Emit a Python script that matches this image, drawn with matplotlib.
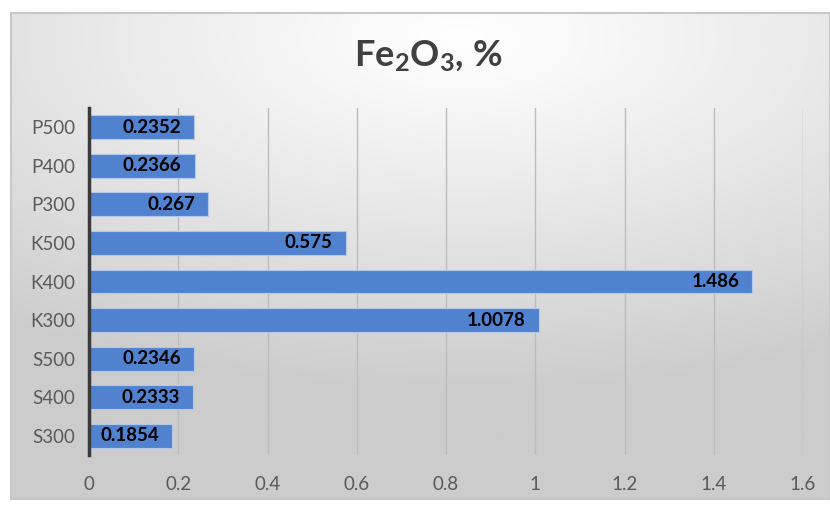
import numpy as np
import matplotlib
matplotlib.use("Agg")
import matplotlib.pyplot as plt
from matplotlib.patches import Rectangle

plt.rcParams['font.family'] = ['Lato', 'DejaVu Sans']
plt.rcParams['mathtext.fontset'] = 'custom'
plt.rcParams['mathtext.rm'] = 'Lato:bold'
plt.rcParams['mathtext.bf'] = 'Lato:bold'

categories = ["S300", "S400", "S500", "K300", "K400", "K500", "P300", "P400", "P500"]
values = [0.1854, 0.2333, 0.2346, 1.0078, 1.486, 0.575, 0.267, 0.2366, 0.2352]
labels = ["0.1854", "0.2333", "0.2346", "1.0078", "1.486", "0.575", "0.267", "0.2366", "0.2352"]
xticks = [0, 0.2, 0.4, 0.6, 0.8, 1.0, 1.2, 1.4, 1.6]
xticklabels = ["0", "0.2", "0.4", "0.6", "0.8", "1", "1.2", "1.4", "1.6"]

W, H = 830, 505
fig = plt.figure(figsize=(W / 100, H / 100), dpi=100)
fig.patch.set_facecolor("white")

# chart area with a soft radial gradient
bx0, by0, bx1, by1 = 11, 13, 830, 499
bg = fig.add_axes([bx0 / W, 1 - by1 / H, (bx1 - bx0) / W, (by1 - by0) / H])
gx, gy = np.meshgrid(np.linspace(0, 1, 400), np.linspace(0, 1, 240))
cx, cy = 0.55, 0.05
r = np.sqrt(((gx - cx) * 1.0) ** 2 + ((gy - cy) * 1.3) ** 2)
shade = 1.0 - 0.20 * np.clip(r / 0.95, 0, 1) ** 1.1
img = np.dstack([shade, shade, shade])
bg.imshow(img, aspect="auto", extent=[0, 1, 1, 0], interpolation="bilinear")
bg.set_xlim(0, 1)
bg.set_ylim(1, 0)
bg.axis("off")
bg.add_patch(Rectangle((0, 0), 1, 1, fill=False, edgecolor="#c8c8c8", lw=1.5,
                       transform=bg.transAxes, clip_on=False))

ax = fig.add_axes([89 / W, 1 - 455 / H, (803 - 89) / W, (455 - 108) / H])
ax.set_facecolor("none")
y = np.arange(len(categories))
bars = ax.barh(y, values, height=0.62, color="#5182d0", edgecolor="#b4c8ec", linewidth=0.8, zorder=3)

ax.set_xlim(0, 1.6)
ax.set_ylim(-0.5, len(categories) - 0.5)
ax.set_xticks(xticks)
ax.set_xticklabels(xticklabels)
ax.set_yticks(y)
ax.set_yticklabels(categories)
ax.tick_params(axis="both", length=0, labelsize=13.5, labelcolor="#595959")
ax.tick_params(axis="x", pad=15)
ax.tick_params(axis="y", pad=10)
ax.grid(axis="x", color="#bcbcbc", linewidth=1.0, zorder=0)
for s in ["top", "right", "bottom"]:
    ax.spines[s].set_visible(False)
ax.spines["left"].set_color("#3a3a3a")
ax.spines["left"].set_linewidth(2.5)
ax.spines["left"].set_zorder(4)

# value labels inside the bar ends
fig.canvas.draw()
renderer = fig.canvas.get_renderer()
pad_px = 13
for yi, v, lab in zip(y, values, labels):
    t = ax.text(0, yi, lab, ha="right", va="center", fontsize=13.5, fontweight="bold",
                color="black", zorder=5)
    tw = t.get_window_extent(renderer).width
    x0_px = ax.transData.transform((0, yi))[0]
    x1_px = ax.transData.transform((v, yi))[0]
    bw = x1_px - x0_px
    if bw >= tw + 2 * pad_px:
        xr = x1_px - pad_px
    else:
        xr = x0_px + (bw + tw) / 2
    xd = ax.transData.inverted().transform((xr, 0))[0]
    t.set_x(xd)

fig.text(428 / W, 1 - 56 / H, r"$\mathrm{Fe_2O_3}$, %", ha="center", va="center",
         fontsize=26, fontweight="bold", color="#404040")

fig.savefig("out.png", dpi=100)
